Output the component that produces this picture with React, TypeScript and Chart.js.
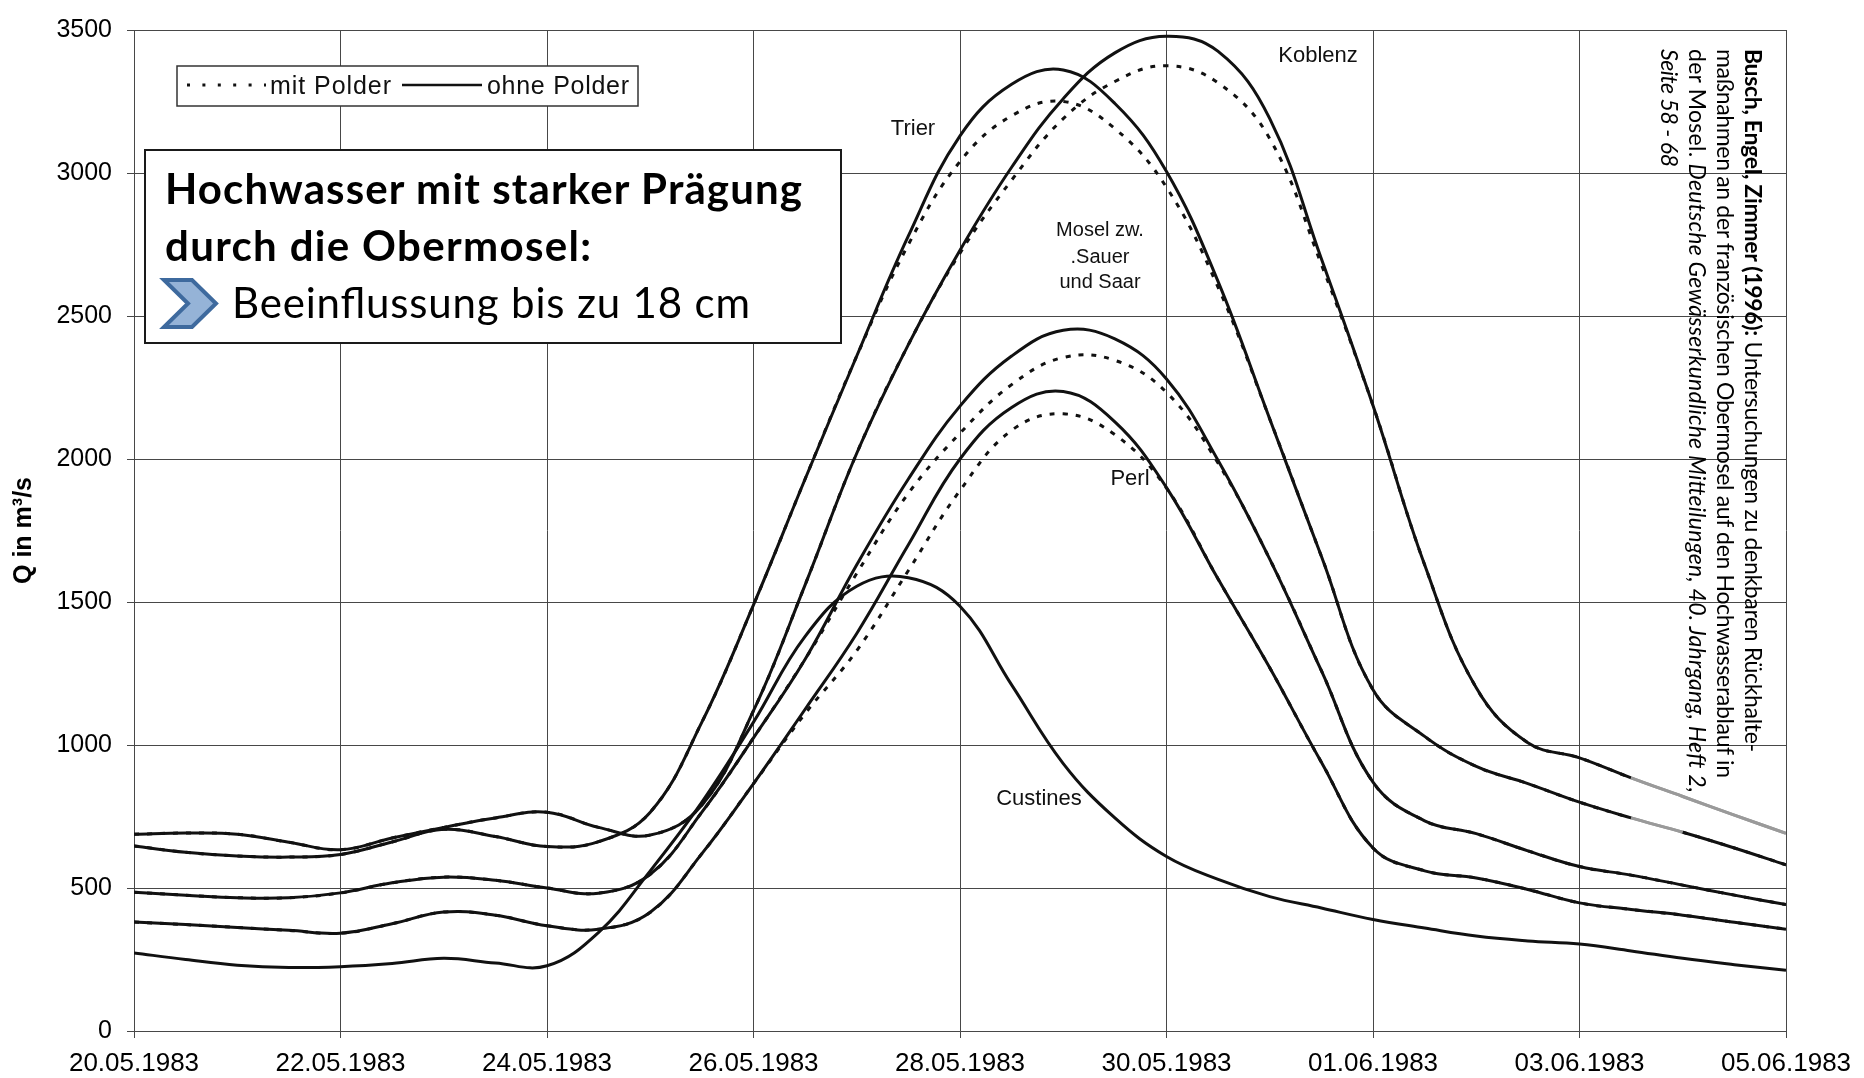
import React, { useEffect, useRef } from 'react';
import { Chart, registerables } from 'chart.js';

Chart.register(...registerables);

// x values: days since 20.05.1983
const days = [0, 0.5, 1, 1.5, 2, 2.5, 3, 3.5, 4, 4.5, 5, 5.5, 6, 6.5, 7, 7.5, 8, 8.5, 9, 9.5, 10, 10.5, 11, 11.5, 12, 12.5, 13, 13.5, 14, 14.5, 15, 15.5, 16];

const xTickLabels = ['20.05.1983', '22.05.1983', '24.05.1983', '26.05.1983', '28.05.1983', '30.05.1983', '01.06.1983', '03.06.1983', '05.06.1983'];

// ohne Polder (solid)
const koblenzOhne = [688, 692, 688, 660, 634, 675, 712, 745, 765, 712, 685, 790, 1120, 1560, 2020, 2400, 2730, 3020, 3260, 3420, 3478, 3425, 3190, 2700, 2187, 1630, 1200, 1008, 955, 885, 820, 755, 691];
const trierOhne = [647, 625, 612, 608, 617, 661, 705, 680, 645, 662, 765, 1080, 1490, 1930, 2360, 2780, 3130, 3310, 3360, 3243, 3005, 2620, 2140, 1660, 1193, 1030, 925, 865, 800, 745, 695, 640, 581];
const moselOhne = [485, 475, 466, 466, 483, 518, 538, 527, 500, 482, 548, 765, 1025, 1300, 1630, 1930, 2185, 2360, 2450, 2420, 2280, 1995, 1650, 1260, 870, 735, 690, 630, 575, 545, 510, 475, 442];
const perlOhne = [381, 372, 362, 352, 342, 375, 416, 405, 368, 356, 415, 620, 865, 1125, 1390, 1700, 2000, 2180, 2236, 2130, 1900, 1580, 1270, 940, 640, 560, 535, 495, 448, 425, 405, 380, 356];
const custinesOhne = [273, 250, 230, 222, 225, 236, 254, 238, 228, 345, 560, 800, 1080, 1380, 1555, 1585, 1485, 1210, 935, 745, 610, 530, 470, 430, 390, 360, 332, 315, 304, 280, 254, 232, 212];

// mit Polder (dotted)
const koblenzMit = [688, 692, 688, 660, 634, 675, 712, 745, 765, 712, 685, 790, 1120, 1560, 2020, 2400, 2720, 2975, 3190, 3320, 3375, 3315, 3120, 2680, 2187, 1630, 1200, 1008, 955, 885, 820, 755, 691];
const trierMit = [647, 625, 612, 608, 617, 661, 705, 680, 645, 662, 765, 1080, 1490, 1930, 2360, 2750, 3040, 3200, 3250, 3155, 2950, 2600, 2140, 1660, 1193, 1030, 925, 865, 800, 745, 695, 640, 581];
const moselMit = [485, 475, 466, 466, 483, 518, 538, 527, 500, 482, 548, 765, 1025, 1300, 1600, 1880, 2090, 2260, 2355, 2345, 2233, 1985, 1650, 1260, 870, 735, 690, 630, 575, 545, 510, 475, 442];
const perlMit = [381, 372, 362, 352, 342, 375, 416, 405, 368, 356, 415, 620, 865, 1110, 1330, 1610, 1890, 2100, 2158, 2085, 1898, 1580, 1270, 940, 640, 560, 535, 495, 448, 425, 405, 380, 356];

const W = 1864;
const H = 1078;
const SANS = "'Liberation Sans', Arial, sans-serif";
const LATO = "Lato, 'Open Sans', sans-serif";
const INK = '#111';
const GRID = '#474747';
const FADED = '#9a9a9a';

function pts(arr: number[]) {
  return days.map((d, i) => ({ x: d, y: arr[i] }));
}

function line(label: string, arr: number[], dotted: boolean, fadeFrom?: number, fadeTo?: number) {
  return {
    label,
    data: pts(arr),
    borderColor: INK,
    borderWidth: 3,
    borderDash: dotted ? [5, 8] : [],
    pointRadius: 0,
    tension: 0.4,
    fill: false,
    segment: {
      borderColor: (ctx: any) => {
        if (fadeFrom === undefined) return undefined;
        const x0 = ctx.p0.parsed.x;
        return x0 >= fadeFrom && x0 < (fadeTo as number) ? FADED : undefined;
      },
      borderDash: (ctx: any) => {
        if (fadeFrom === undefined) return undefined;
        const x0 = ctx.p0.parsed.x;
        return x0 >= fadeFrom && x0 < (fadeTo as number) ? [] : undefined;
      },
    },
  };
}

export default function App() {
  const canvasRef = useRef<HTMLCanvasElement | null>(null);

  useEffect(() => {
    const canvas = canvasRef.current;
    if (!canvas) return;
    const chart = new Chart(canvas, {
      type: 'line',
      data: {
        datasets: [
          line('Koblenz mit Polder', koblenzMit, true, 14.5, 16),
          line('Trier mit Polder', trierMit, true, 14.5, 15),
          line('Mosel zw. Sauer und Saar mit Polder', moselMit, true),
          line('Perl mit Polder', perlMit, true),
          line('Koblenz ohne Polder', koblenzOhne, false, 14.5, 16),
          line('Trier ohne Polder', trierOhne, false, 14.5, 15),
          line('Mosel zw. Sauer und Saar ohne Polder', moselOhne, false),
          line('Perl ohne Polder', perlOhne, false),
          line('Custines', custinesOhne, false),
        ] as any,
      },
      options: {
        animation: false,
        responsive: false,
        maintainAspectRatio: false,
        layout: { padding: { left: 0, right: 78, top: 21, bottom: 0 } },
        plugins: {
          legend: { display: false },
          tooltip: { enabled: false },
          title: { display: false },
        },
        scales: {
          x: {
            type: 'linear',
            min: 0,
            max: 16,
            ticks: {
              stepSize: 2,
              autoSkip: false,
              maxRotation: 0,
              color: '#000',
              padding: 10,
              font: { family: SANS, size: 26 },
              callback: (v: any) => xTickLabels[Math.round(Number(v) / 2)] ?? '',
            },
            grid: { color: GRID, lineWidth: 1, tickLength: 7, drawTicks: true },
            border: { color: GRID, width: 1 },
            afterFit: (s: any) => {
              s.height = 47;
            },
          },
          y: {
            type: 'linear',
            min: 0,
            max: 3500,
            ticks: {
              stepSize: 500,
              color: '#000',
              padding: 15,
              font: { family: SANS, size: 25 },
              callback: (v: any) => String(v),
            },
            grid: { color: GRID, lineWidth: 1, tickLength: 7, drawTicks: true },
            border: { color: GRID, width: 1 },
            title: {
              display: true,
              text: 'Q in m³/s',
              color: '#000',
              font: { family: SANS, size: 25, weight: 'bold' },
              padding: { top: 9, bottom: 0 },
            },
            afterFit: (s: any) => {
              s.width = 134;
            },
          },
        },
      } as any,
    });
    return () => chart.destroy();
  }, []);

  const labelStyle = { fontFamily: SANS, fill: INK } as any;

  return (
    <div style={{ position: 'absolute', left: 0, top: 0, width: W, height: H, background: '#fff', overflow: 'hidden' }}>
      <canvas ref={canvasRef} width={W} height={H} style={{ position: 'absolute', left: 0, top: 0, width: W, height: H }} />
      <svg width={W} height={H} style={{ position: 'absolute', left: 0, top: 0, pointerEvents: 'none' }}>
        {/* legend */}
        <rect x={177} y={66} width={461} height={40} fill="#fff" stroke="#333" strokeWidth={1.5} />
        <line x1={187} y1={85} x2={266} y2={85} stroke={INK} strokeWidth={3} strokeDasharray="3 12.4" />
        <text x={270} y={94} fontSize={25} textLength={121} {...labelStyle}>mit Polder</text>
        <line x1={402} y1={85} x2={482} y2={85} stroke={INK} strokeWidth={2.5} />
        <text x={487} y={94} fontSize={25} textLength={142} {...labelStyle}>ohne Polder</text>

        {/* annotation box */}
        <rect x={145} y={150} width={696} height={193} fill="#fff" stroke="#1a1a1a" strokeWidth={2} />
        <text x={165} y={204} fontSize={42} fontWeight="bold" textLength={637} style={{ fontFamily: LATO }} fill="#000">Hochwasser mit starker Prägung</text>
        <text x={165} y={261} fontSize={42} fontWeight="bold" textLength={426} style={{ fontFamily: LATO }} fill="#000">durch die Obermosel:</text>
        <polygon points="164,280 192,280 216,303.5 192,327 164,327 188,303.5" fill="#95B3D7" stroke="#3E6A9E" strokeWidth={4} strokeLinejoin="miter" />
        <text x={232} y={318} fontSize={42} textLength={518} style={{ fontFamily: LATO }} fill="#000">Beeinflussung bis zu 18 cm</text>

        {/* station labels */}
        <text x={913} y={135} fontSize={22} textAnchor="middle" {...labelStyle}>Trier</text>
        <text x={1318} y={62} fontSize={22} textAnchor="middle" {...labelStyle}>Koblenz</text>
        <text x={1100} y={236} fontSize={20} textAnchor="middle" {...labelStyle}>Mosel zw.</text>
        <text x={1100} y={263} fontSize={20} textAnchor="middle" {...labelStyle}>.Sauer</text>
        <text x={1100} y={288} fontSize={20} textAnchor="middle" {...labelStyle}>und Saar</text>
        <text x={1130} y={485} fontSize={22} textAnchor="middle" {...labelStyle}>Perl</text>
        <text x={1039} y={805} fontSize={22} textAnchor="middle" {...labelStyle}>Custines</text>

        {/* citation, rotated */}
        <g transform="translate(1745,49) rotate(90)">
          <text x={0} y={0} fontSize={23} textLength={703} style={{ fontFamily: LATO }} fill="#000">
            <tspan fontWeight="bold">Busch, Engel, Zimmer (1996):</tspan> Untersuchungen zu denkbaren Rückhalte-
          </text>
        </g>
        <g transform="translate(1717,49) rotate(90)">
          <text x={0} y={0} fontSize={23} textLength={729} style={{ fontFamily: LATO }} fill="#000">
            maßnahmen an der französischen Obermosel auf den Hochwasserablauf in
          </text>
        </g>
        <g transform="translate(1689,49) rotate(90)">
          <text x={0} y={0} fontSize={23} textLength={744} style={{ fontFamily: LATO }} fill="#000">
            der Mosel. <tspan fontStyle="italic">Deutsche Gewässerkundliche Mitteilungen, 40. Jahrgang, Heft 2,</tspan>
          </text>
        </g>
        <g transform="translate(1661,49) rotate(90)">
          <text x={0} y={0} fontSize={23} textLength={118} style={{ fontFamily: LATO }} fill="#000">
            <tspan fontStyle="italic">Seite 58 - 68</tspan>
          </text>
        </g>
      </svg>
    </div>
  );
}
